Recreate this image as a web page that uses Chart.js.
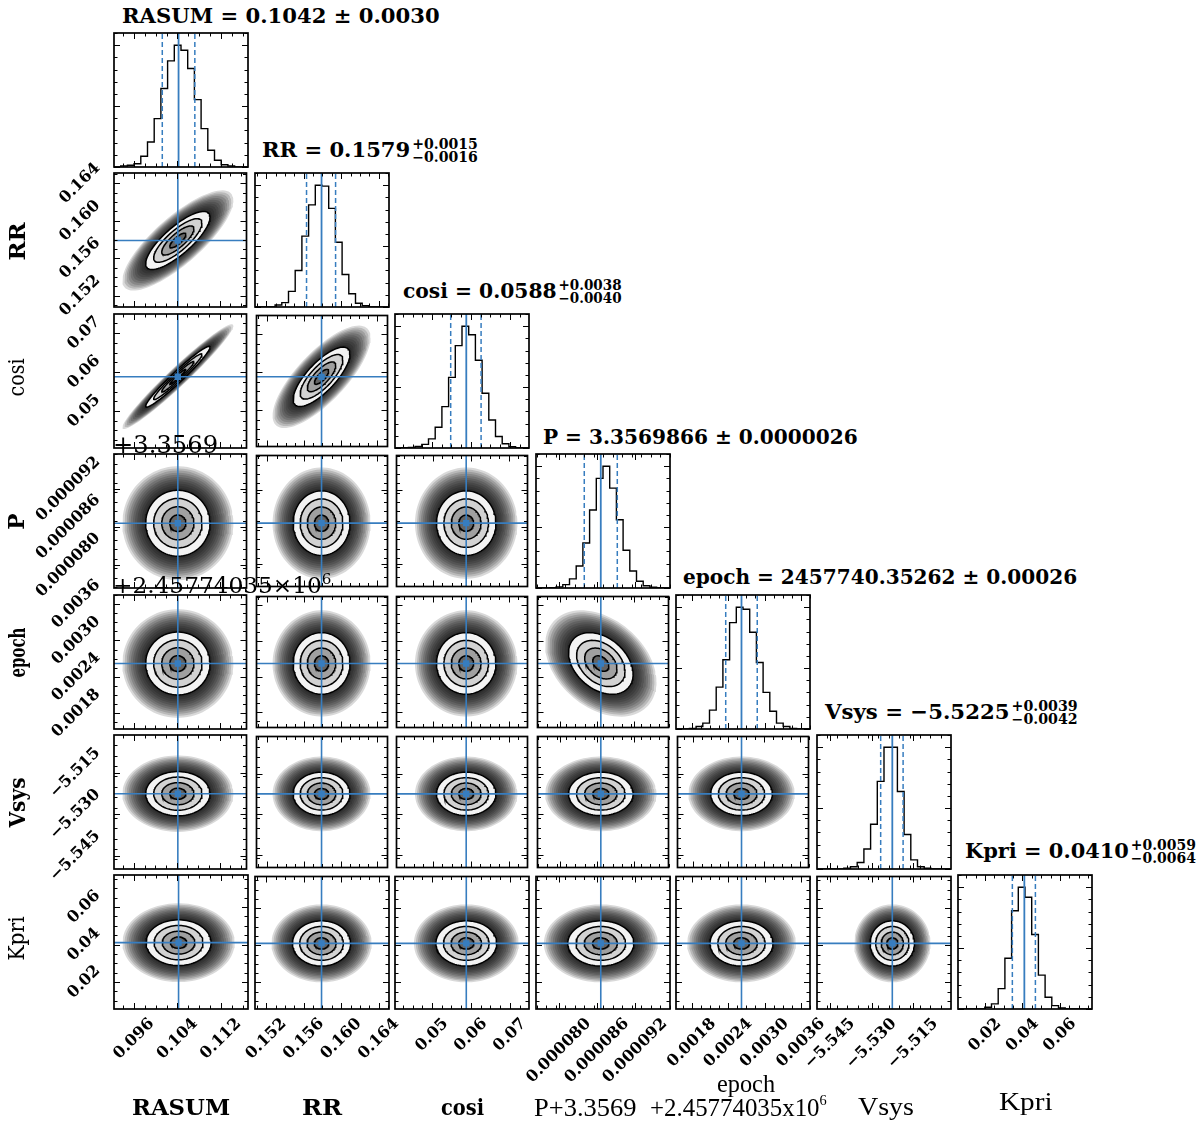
<!DOCTYPE html>
<html>
<head>
<meta charset="utf-8">
<script src="https://cdn.jsdelivr.net/npm/chart.js@4.4.1/dist/chart.umd.min.js"></script>
<style>
html, body { margin: 0; padding: 0; background: #fff; }
#page { position: relative; width: 1200px; height: 1128px; overflow: hidden; }
#page canvas { position: absolute; z-index: 1; }
.txt { position: absolute; white-space: nowrap; color: #000; z-index: 5; }
.bl { display: inline-block; width: 0; height: 0; }
.stk { display: inline-block; vertical-align: -5px; font-size: 14px; line-height: 13px; margin-left: 2px; }
.stk span { display: block; }
</style>
</head>
<body>
<div id="page"></div>
<script>
// parameters of the corner plot
const names = ['RASUM', 'RR', 'cosi', 'P', 'epoch', 'Vsys', 'Kpri'];
const medians = [0.1042, 0.1579, 0.0588, 0.0000866, 0.00262, -5.5225, 0.0410];
const errLow = [0.0030, 0.0016, 0.0040, 0.0000026, 0.00026, 0.0042, 0.0064];
const errHigh = [0.0030, 0.0015, 0.0038, 0.0000026, 0.00026, 0.0039, 0.0059];
const sigmas = [0.0030, 0.00155, 0.0039, 0.0000026, 0.00026, 0.0040, 0.0061];
const rangeMin = [0.0923, 0.1508, 0.0405, 0.0000764, 0.00154, -5.5497, 0.0056];
const rangeMax = [0.1170, 0.1651, 0.0749, 0.0000975, 0.00375, -5.5013, 0.0771];
// [row param, col param, correlation]
const corrPairs = [[1, 0, 0.80], [2, 0, 0.97], [2, 1, 0.76], [4, 3, -0.35]];

// histogram counts, 20 bins over each range
const histRASUM = [0, 8, 14, 27, 88, 205, 397, 644, 871, 1000, 959, 808, 553, 315, 137, 55, 19, 8, 0, 0];
const histRR = [0, 0, 0, 17, 36, 128, 300, 582, 838, 1000, 992, 810, 532, 267, 109, 31, 11, 0, 0, 0];
const histCosi = [0, 2, 5, 12, 30, 75, 170, 340, 580, 840, 1000, 930, 720, 450, 230, 95, 35, 10, 3, 0];
const histP = [0, 1, 3, 9, 28, 75, 180, 370, 640, 900, 1000, 820, 560, 310, 140, 55, 18, 6, 2, 0];
const histEpoch = [0, 0, 5, 20, 48, 155, 344, 569, 873, 1000, 983, 794, 546, 301, 146, 48, 20, 5, 0, 0];
const histVsys = [0, 0, 0, 0, 6, 19, 53, 164, 367, 719, 1000, 1000, 636, 283, 75, 19, 6, 0, 0, 0];
const histKpri = [0, 0, 0, 0, 14, 42, 167, 417, 806, 1000, 917, 611, 278, 97, 28, 8, 0, 0, 0, 0];

// tick values and labels
const ticksRASUM = [0.096, 0.104, 0.112];
const labelsRASUM = ['0.096', '0.104', '0.112'];
const ticksRR = [0.152, 0.156, 0.160, 0.164];
const labelsRR = ['0.152', '0.156', '0.160', '0.164'];
const ticksCosi = [0.05, 0.06, 0.07];
const labelsCosi = ['0.05', '0.06', '0.07'];
const ticksP = [0.000080, 0.000086, 0.000092];
const labelsP = ['0.000080', '0.000086', '0.000092'];
const ticksEpoch = [0.0018, 0.0024, 0.0030, 0.0036];
const labelsEpoch = ['0.0018', '0.0024', '0.0030', '0.0036'];
const ticksVsys = [-5.545, -5.530, -5.515];
const labelsVsys = ['\u22125.545', '\u22125.530', '\u22125.515'];
const ticksKpri = [0.02, 0.04, 0.06];
const labelsKpri = ['0.02', '0.04', '0.06'];
const minorStep = [0.002, 0.001, 0.0025, 0.0000015, 0.00015, 0.00375, 0.005];

const hists = [histRASUM, histRR, histCosi, histP, histEpoch, histVsys, histKpri];
const tickValues = [ticksRASUM, ticksRR, ticksCosi, ticksP, ticksEpoch, ticksVsys, ticksKpri];
const tickLabels = [labelsRASUM, labelsRR, labelsCosi, labelsP, labelsEpoch, labelsVsys, labelsKpri];

// layout
const X0 = 114, Y0 = 33, STEP_X = 140.6, STEP_Y = 140.4, SIZE = 134;
const BLUE = '#377dbf';
const TICK_FONT = 'bold 16px "DejaVu Serif"';
const haloRadii = [];
for (let r = 3.45; r > 2.05; r -= 0.13) haloRadii.push(r);
const HALO_ALPHA = 0.15;
const levelRadii = [2, 1.5, 1, 0.5];
const levelFill = ['#f3f3f3', '#d2d2d2', '#a0a0a0', '#646464'];

const page = document.getElementById('page');

function corr(a, b) {
  for (const [p, q, v] of corrPairs) {
    if ((p === a && q === b) || (p === b && q === a)) return v;
  }
  return 0;
}

function ellipse(cx, cy, sx, sy, rho, r) {
  const pts = [];
  const n = 90, s = Math.sqrt(1 - rho * rho);
  for (let k = 0; k <= n; k++) {
    const t = 2 * Math.PI * k / n;
    const u = Math.cos(t), v = Math.sin(t);
    pts.push({ x: cx + r * sx * u, y: cy + r * sy * (rho * u + s * v) });
  }
  return pts;
}

function tickList(lo, hi, step) {
  const out = [];
  for (let k = Math.ceil(lo / step - 1e-9); k * step <= hi + step * 1e-6; k++) out.push(k * step);
  return out;
}

function minorsOf(lo, hi, step, majors) {
  return tickList(lo, hi, step).filter(v => !majors.some(m => Math.abs(m - v) < step * 0.1));
}

const shape = (data, color) => ({ data, showLine: true, pointRadius: 0, borderWidth: 0,
  borderColor: 'rgba(0,0,0,0)', backgroundColor: color, fill: 'shape' });
const line = (data, color, width, dash) => ({ data, showLine: true, pointRadius: 0, fill: false,
  borderColor: color, borderWidth: width, borderDash: dash || [] });

// frame, inward ticks and rotated tick labels
const cornerAxes = {
  id: 'cornerAxes',
  afterDraw(chart, args, o) {
    const { ctx, chartArea: a } = chart;
    const xs = chart.scales.x, ys = chart.scales.y;
    ctx.save();
    ctx.strokeStyle = '#000';
    ctx.lineWidth = 1;
    ctx.beginPath();
    const xMarks = (list, len) => list.forEach(v => {
      const p = Math.round(xs.getPixelForValue(v)) + 0.5;
      ctx.moveTo(p, a.bottom); ctx.lineTo(p, a.bottom - len);
      ctx.moveTo(p, a.top); ctx.lineTo(p, a.top + len);
    });
    const yMarks = (list, len) => list.forEach(v => {
      const p = Math.round(ys.getPixelForValue(v)) + 0.5;
      ctx.moveTo(a.left, p); ctx.lineTo(a.left + len, p);
      ctx.moveTo(a.right, p); ctx.lineTo(a.right - len, p);
    });
    xMarks(o.xMajor, 6); xMarks(o.xMinor, 3.5);
    yMarks(o.yMajor, 6); yMarks(o.yMinor, 3.5);
    ctx.stroke();
    ctx.lineWidth = 1.7;
    ctx.strokeRect(a.left, a.top, a.right - a.left, a.bottom - a.top);

    ctx.font = TICK_FONT;
    ctx.fillStyle = '#000';
    ctx.textAlign = 'center';
    ctx.textBaseline = 'middle';
    const h = 12;
    if (o.xLabels) {
      o.xMajor.forEach((v, k) => {
        const t = o.xLabels[k];
        const d = (ctx.measureText(t).width + h) / Math.SQRT2;
        ctx.save();
        ctx.translate(xs.getPixelForValue(v), a.bottom + 8 + d / 2);
        ctx.rotate(-Math.PI / 4);
        ctx.fillText(t, 0, 0);
        ctx.restore();
      });
    }
    if (o.yLabels) {
      o.yMajor.forEach((v, k) => {
        const t = o.yLabels[k];
        const d = (ctx.measureText(t).width + h) / Math.SQRT2;
        ctx.save();
        ctx.translate(a.left - 12 - d / 2, ys.getPixelForValue(v));
        ctx.rotate(-Math.PI / 4);
        ctx.fillText(t, 0, 0);
        ctx.restore();
      });
    }
    ctx.restore();
  }
};

function histDatasets(i) {
  const counts = hists[i];
  const lo = rangeMin[i], hi = rangeMax[i], w = (hi - lo) / counts.length;
  const pts = [{ x: lo, y: 0 }];
  counts.forEach((c, k) => pts.push({ x: lo + k * w, y: c }));
  pts.push({ x: hi, y: counts[counts.length - 1] });
  pts.push({ x: hi, y: 0 });
  const top = Math.max(...counts) * 1.1;
  const m = medians[i], q1 = m - errLow[i], q2 = m + errHigh[i];
  const steps = line(pts, '#000', 1.4);
  steps.stepped = 'before';
  return [
    steps,
    line([{ x: q1, y: 0 }, { x: q1, y: top }], BLUE, 1.5, [5, 3]),
    line([{ x: m, y: 0 }, { x: m, y: top }], BLUE, 1.8),
    line([{ x: q2, y: 0 }, { x: q2, y: top }], BLUE, 1.5, [5, 3])
  ];
}

function densityDatasets(i, j) {
  // i: parameter on y, j: parameter on x
  const cx = medians[j], cy = medians[i], sx = sigmas[j], sy = sigmas[i], rho = corr(i, j);
  const list = [];
  haloRadii.forEach(r => list.push(shape(ellipse(cx, cy, sx, sy, rho, r), 'rgba(0,0,0,' + HALO_ALPHA + ')')));
  levelRadii.forEach((r, k) => list.push(shape(ellipse(cx, cy, sx, sy, rho, r), levelFill[k])));
  levelRadii.forEach(r => list.push(line(ellipse(cx, cy, sx, sy, rho, r), '#000', 1.5)));
  list.push(line([{ x: cx, y: rangeMin[i] }, { x: cx, y: rangeMax[i] }], BLUE, 1.6));
  list.push(line([{ x: rangeMin[j], y: cy }, { x: rangeMax[j], y: cy }], BLUE, 1.6));
  list.push({ data: [{ x: cx, y: cy }], pointStyle: 'rect', pointRadius: 4.5,
    backgroundColor: BLUE, borderWidth: 0 });
  return list;
}

function makePanel(r, c) {
  const bx = Math.round(X0 + c * STEP_X), by = Math.round(Y0 + r * STEP_Y);
  const last = names.length - 1;
  const pad = {
    left: c === 0 ? 110 : (r === last ? 50 : 3),
    right: r === last ? 50 : 3,
    top: (c === 0 && r > 0) ? 50 : 3,
    bottom: r === last ? 90 : (c === 0 ? 50 : 3)
  };
  const cv = document.createElement('canvas');
  cv.width = SIZE + pad.left + pad.right;
  cv.height = SIZE + pad.top + pad.bottom;
  cv.style.left = (bx - pad.left) + 'px';
  cv.style.top = (by - pad.top) + 'px';
  cv.style.width = cv.width + 'px';
  cv.style.height = cv.height + 'px';
  page.appendChild(cv);

  const isHist = r === c;
  let datasets, yMin, yMax, yMajor, yMinor;
  if (isHist) {
    datasets = histDatasets(c);
    yMin = 0; yMax = Math.max(...hists[c]) * 1.1;
    yMajor = tickList(0, yMax, 500);
    yMinor = minorsOf(0, yMax, 100, yMajor);
  } else {
    datasets = densityDatasets(r, c);
    yMin = rangeMin[r]; yMax = rangeMax[r];
    yMajor = tickValues[r];
    yMinor = minorsOf(yMin, yMax, minorStep[r], yMajor);
  }
  // first dataset is drawn on top in Chart.js
  datasets.reverse();

  new Chart(cv, {
    type: 'scatter',
    data: { datasets },
    options: {
      responsive: false,
      animation: false,
      devicePixelRatio: 1,
      events: [],
      layout: { padding: pad },
      scales: {
        x: { type: 'linear', min: rangeMin[c], max: rangeMax[c], display: false },
        y: { type: 'linear', min: yMin, max: yMax, display: false }
      },
      plugins: {
        legend: { display: false },
        tooltip: { enabled: false },
        cornerAxes: {
          xMajor: tickValues[c],
          xMinor: minorsOf(rangeMin[c], rangeMax[c], minorStep[c], tickValues[c]),
          yMajor, yMinor,
          xLabels: r === last ? tickLabels[c] : null,
          yLabels: (c === 0 && r > 0) ? tickLabels[r] : null
        }
      }
    },
    plugins: [cornerAxes]
  });
}

for (let r = 0; r < names.length; r++) {
  for (let c = 0; c <= r; c++) makePanel(r, c);
}

// texts
function putText(html, x, base, font, opt) {
  opt = opt || {};
  const el = document.createElement('div');
  el.className = 'txt';
  el.style.font = font;
  el.style.lineHeight = '1';
  el.innerHTML = html + '<span class="bl"></span>';
  page.appendChild(el);
  const bl = el.lastChild;
  const baseOff = bl.offsetTop + bl.offsetHeight;
  const natural = el.offsetWidth;
  const k = opt.width ? opt.width / natural : 1;
  el.style.transformOrigin = 'left top';
  el.style.transform = 'scaleX(' + k.toFixed(4) + ')';
  el.style.left = (opt.align === 'center' ? x - natural * k / 2 : x) + 'px';
  el.style.top = (base - baseOff) + 'px';
}

function putRotated(text, cx, cy, font, len) {
  const el = document.createElement('div');
  el.className = 'txt';
  el.style.font = font;
  el.style.lineHeight = '1';
  el.textContent = text;
  page.appendChild(el);
  const w = el.offsetWidth, h = el.offsetHeight;
  el.style.left = (cx - w / 2) + 'px';
  el.style.top = (cy - h / 2) + 'px';
  el.style.transformOrigin = 'center center';
  el.style.transform = 'rotate(-90deg) scaleX(' + (len / w).toFixed(4) + ')';
}

const stack = (up, down) => '<span class="stk"><span>' + up + '</span><span>' + down + '</span></span>';
const TITLE_FONT = 'bold 21px "DejaVu Serif"';
putText('RASUM = 0.1042 ± 0.0030', 122, 23, TITLE_FONT, { width: 318 });
putText('RR = 0.1579' + stack('+0.0015', '\u22120.0016'), 262, 157, TITLE_FONT, { width: 216 });
putText('cosi = 0.0588' + stack('+0.0038', '\u22120.0040'), 403, 298, TITLE_FONT, { width: 219 });
putText('P = 3.3569866 ± 0.0000026', 543, 444, TITLE_FONT, { width: 315 });
putText('epoch = 2457740.35262 ± 0.00026', 683, 584, TITLE_FONT, { width: 394 });
putText('Vsys = \u22125.5225' + stack('+0.0039', '\u22120.0042'), 825, 719, TITLE_FONT, { width: 253 });
putText('Kpri = 0.0410' + stack('+0.0059', '\u22120.0064'), 965, 858, TITLE_FONT, { width: 231 });

// offset texts of the P and epoch axes
putText('+3.3569', 113, 453, '24px "DejaVu Serif"', { width: 105 });
putText('+2.45774035×10<sup style="font-size:15px;vertical-align:9px;line-height:0">6</sup>', 113, 593,
  '23px "DejaVu Serif"', { width: 218 });

// bottom axis labels
const LAB_BOLD = 'bold 23px "DejaVu Serif"';
const LAB_TIMES = '26px "Liberation Serif"';
putText('RASUM', 181, 1115, LAB_BOLD, { align: 'center', width: 98 });
putText('RR', 322, 1115, LAB_BOLD, { align: 'center', width: 40 });
putText('cosi', 462, 1115, LAB_BOLD, { align: 'center', width: 43 });
putText('P+3.3569', 585, 1116, LAB_TIMES, { align: 'center', width: 103 });
putText('+2.45774035x10<sup style="font-size:15px;vertical-align:11px;line-height:0">6</sup>', 738, 1116,
  LAB_TIMES, { align: 'center', width: 177 });
putText('epoch', 746, 1092, LAB_TIMES, { align: 'center', width: 58 });
putText('Vsys', 886, 1115, LAB_TIMES, { align: 'center', width: 56 });
putText('Kpri', 1026, 1110, LAB_TIMES, { align: 'center', width: 54 });

// left axis labels
putRotated('RR', 16, 241, 'bold 23px "DejaVu Serif"', 38);
putRotated('cosi', 17, 377, '23px "DejaVu Serif"', 38);
putRotated('P', 15, 521, 'bold 23px "DejaVu Serif"', 16);
putRotated('epoch', 16, 652, 'bold 23px "DejaVu Serif"', 50);
putRotated('Vsys', 16, 802, 'bold 23px "DejaVu Serif"', 50);
putRotated('Kpri', 16, 938, '23px "DejaVu Serif"', 44);
</script>
</body>
</html>
